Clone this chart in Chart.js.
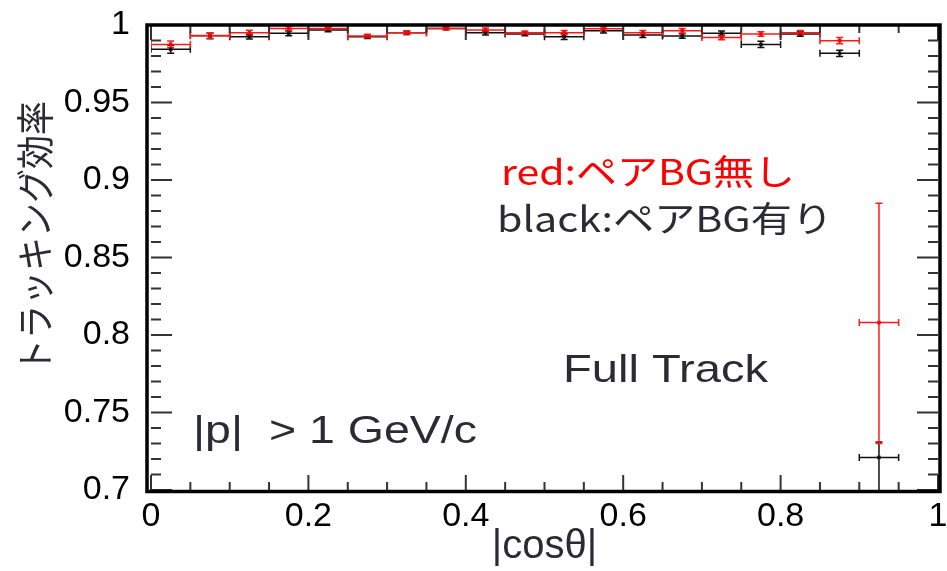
<!DOCTYPE html>
<html>
<head>
<meta charset="utf-8">
<script src="https://cdn.jsdelivr.net/npm/chart.js@4.4.1/dist/chart.umd.min.js"></script>
<style>
  html, body { margin: 0; padding: 0; background: #fff; }
  canvas { display: block; }
</style>
</head>
<body>
<canvas id="chart" width="947" height="571"></canvas>
<script>
// |cos(theta)| bin centres, each bin is 0.05 wide
const binCenters = [0.025, 0.075, 0.125, 0.175, 0.225, 0.275, 0.325, 0.375, 0.425, 0.475,
                    0.525, 0.575, 0.625, 0.675, 0.725, 0.775, 0.825, 0.875, 0.925];
const binHalfWidth = 0.025;

// tracking efficiency without pair background (red)
const redEff = [0.9875, 0.9932, 0.9950, 0.9978, 0.9978, 0.9929, 0.9950, 0.9978, 0.9968, 0.9950,
                0.9950, 0.9976, 0.9950, 0.9963, 0.9920, 0.9942, 0.9950, 0.9899, 0.808];
const redErrUp = [0.0021, 0.0018, 0.0016, 0.0012, 0.0010, 0.0012, 0.0012, 0.0008, 0.0012, 0.0012,
                  0.0014, 0.0012, 0.0014, 0.0014, 0.0015, 0.0015, 0.0015, 0.0020, 0.077];
const redErrDown = [0.0021, 0.0018, 0.0016, 0.0012, 0.0010, 0.0012, 0.0012, 0.0008, 0.0012, 0.0012,
                    0.0014, 0.0012, 0.0014, 0.0014, 0.0015, 0.0015, 0.0015, 0.0020, 0.078];

// tracking efficiency with pair background (black)
const blackEff = [0.9843, 0.9930, 0.9925, 0.9946, 0.9968, 0.9925, 0.9950, 0.9978, 0.9950, 0.9942,
                  0.9925, 0.9963, 0.9935, 0.9929, 0.9946, 0.9875, 0.9942, 0.9817, 0.721];
const blackErrUp = [0.0025, 0.0018, 0.0016, 0.0016, 0.0012, 0.0012, 0.0012, 0.0008, 0.0015, 0.0012,
                    0.0018, 0.0015, 0.0015, 0.0015, 0.0015, 0.0020, 0.0015, 0.0020, 0.010];
const blackErrDown = [0.0025, 0.0018, 0.0016, 0.0016, 0.0012, 0.0012, 0.0012, 0.0008, 0.0015, 0.0012,
                      0.0018, 0.0015, 0.0015, 0.0015, 0.0015, 0.0020, 0.0015, 0.0020, 0.030];

const xTickLabels = ['0', '0.2', '0.4', '0.6', '0.8', '1'];
const yTickLabels = ['0.7', '0.75', '0.8', '0.85', '0.9', '0.95', '1'];

const LATIN = '"Liberation Sans", Arial, sans-serif';
const JP_FONT = '"Noto Sans CJK JP", "Noto Sans", sans-serif';
const TEXT_DARK = '#2b2b35';

const toPoints = (vals) => binCenters.map((c, i) => ({ x: c, y: vals[i] }));

// ROOT-style horizontal and vertical error bars with end caps
const errorBars = {
  id: 'errorBars',
  beforeDatasetsDraw(chart) {
    const { ctx, chartArea: a, scales: { x, y } } = chart;
    const cap = 3.5;
    ctx.save();
    ctx.beginPath();
    ctx.rect(a.left, a.top, a.right - a.left, a.bottom - a.top);
    ctx.clip();
    // last dataset first so the first one ends up on top
    for (let d = chart.data.datasets.length - 1; d >= 0; d--) {
      const ds = chart.data.datasets[d];
      ctx.strokeStyle = ds.borderColor;
      ctx.lineWidth = 1.5;
      ds.data.forEach((p, i) => {
        const px = x.getPixelForValue(p.x);
        const py = y.getPixelForValue(p.y);
        const l = x.getPixelForValue(p.x - binHalfWidth);
        const r = x.getPixelForValue(p.x + binHalfWidth);
        const t = y.getPixelForValue(p.y + ds.errUp[i]);
        const b = y.getPixelForValue(p.y - ds.errDown[i]);
        ctx.beginPath();
        ctx.moveTo(l, py); ctx.lineTo(r, py);
        ctx.moveTo(l, py - cap); ctx.lineTo(l, py + cap);
        ctx.moveTo(r, py - cap); ctx.lineTo(r, py + cap);
        ctx.moveTo(px, t); ctx.lineTo(px, b);
        ctx.moveTo(px - cap, t); ctx.lineTo(px + cap, t);
        ctx.moveTo(px - cap, b); ctx.lineTo(px + cap, b);
        ctx.stroke();
      });
    }
    ctx.restore();
  }
};

// frame with inward ticks on all four sides
const frame = {
  id: 'frame',
  afterDraw(chart) {
    const { ctx, chartArea: a, scales: { x, y } } = chart;
    ctx.save();
    ctx.strokeStyle = '#333';
    ctx.lineWidth = 2;
    ctx.beginPath();
    for (let i = 0; i <= 20; i++) {
      const px = x.getPixelForValue(i * 0.05);
      const len = i % 4 === 0 ? 15 : 8;
      ctx.moveTo(px, a.bottom); ctx.lineTo(px, a.bottom - len);
      ctx.moveTo(px, a.top); ctx.lineTo(px, a.top + len);
    }
    for (let i = 0; i <= 30; i++) {
      const py = y.getPixelForValue(0.7 + i * 0.01);
      const len = i % 5 === 0 ? 21 : 10;
      ctx.moveTo(a.left, py); ctx.lineTo(a.left + len, py);
      ctx.moveTo(a.right, py); ctx.lineTo(a.right - len, py);
    }
    ctx.stroke();
    ctx.strokeStyle = '#000';
    ctx.lineWidth = 3.5;
    ctx.strokeRect(a.left - 4, a.top, a.right - a.left + 6, a.bottom - a.top + 1.5);
    ctx.restore();
  }
};

// free text in the plot; each one is stretched to the width it has on the slide
const notes = {
  id: 'notes',
  afterDraw(chart) {
    const { ctx } = chart;
    const items = [
      { text: 'red:ペアBG無し', x: 501, y: 185, w: 294, color: '#ff0000', font: '35px ' + JP_FONT },
      { text: 'black:ペアBG有り', x: 497, y: 232, w: 336, color: TEXT_DARK, font: '35px ' + JP_FONT },
      { text: 'Full Track', x: 563, y: 382, w: 205, color: TEXT_DARK, font: '39px ' + LATIN },
      { text: '|p|  > 1 GeV/c', x: 193, y: 443, w: 284, color: TEXT_DARK, font: '39px ' + LATIN },
      { text: 'トラッキング効率', x: 35, y: 237, w: 272, color: TEXT_DARK, font: '38px ' + JP_FONT, vertical: true }
    ];
    ctx.save();
    items.forEach(it => {
      ctx.save();
      ctx.font = it.font;
      ctx.fillStyle = it.color;
      const sx = it.w / ctx.measureText(it.text).width;
      ctx.translate(it.x, it.y);
      if (it.vertical) {
        ctx.rotate(-Math.PI / 2);
        ctx.scale(sx, 1);
        ctx.textAlign = 'center';
        ctx.textBaseline = 'middle';
      } else {
        ctx.scale(sx, 1);
        ctx.textAlign = 'left';
        ctx.textBaseline = 'alphabetic';
      }
      ctx.fillText(it.text, 0, 0);
      ctx.restore();
    });
    ctx.restore();
  }
};

new Chart(document.getElementById('chart'), {
  type: 'scatter',
  data: {
    datasets: [
      {
        label: 'red: ペアBG無し',
        data: toPoints(redEff),
        errUp: redErrUp,
        errDown: redErrDown,
        borderColor: '#ff1a1a',
        backgroundColor: '#ff0000',
        pointStyle: 'rect',
        pointRadius: 2.5,
        pointBorderWidth: 0
      },
      {
        label: 'black: ペアBG有り',
        data: toPoints(blackEff),
        errUp: blackErrUp,
        errDown: blackErrDown,
        borderColor: '#111',
        backgroundColor: '#111',
        pointStyle: 'rect',
        pointRadius: 2.5,
        pointBorderWidth: 0
      }
    ]
  },
  options: {
    responsive: false,
    animation: false,
    devicePixelRatio: 1,
    layout: { padding: { left: 0, top: 25, right: 9, bottom: 0 } },
    plugins: {
      legend: { display: false },
      tooltip: { enabled: false }
    },
    scales: {
      x: {
        type: 'linear',
        min: 0,
        max: 1,
        afterFit: (s) => { s.height = 81; s.paddingLeft = 0; s.paddingRight = 0; },
        grid: { display: false, drawTicks: false },
        border: { display: false },
        ticks: {
          stepSize: 0.2,
          padding: 6,
          color: '#000',
          font: { family: LATIN, size: 34 },
          maxRotation: 0,
          callback: (v, i) => xTickLabels[i]
        },
        title: {
          display: true,
          text: '|cosθ|',
          color: TEXT_DARK,
          font: { family: LATIN, size: 40 },
          padding: { top: 0, bottom: 0 }
        }
      },
      y: {
        type: 'linear',
        min: 0.7,
        max: 1,
        afterFit: (s) => { s.width = 151; s.paddingTop = 0; s.paddingBottom = 0; },
        grid: { display: false, drawTicks: false },
        border: { display: false },
        ticks: {
          stepSize: 0.05,
          padding: 21,
          color: '#000',
          font: { family: LATIN, size: 34 },
          callback: (v, i) => yTickLabels[i]
        }
      }
    }
  },
  plugins: [errorBars, frame, notes]
});
</script>
</body>
</html>
